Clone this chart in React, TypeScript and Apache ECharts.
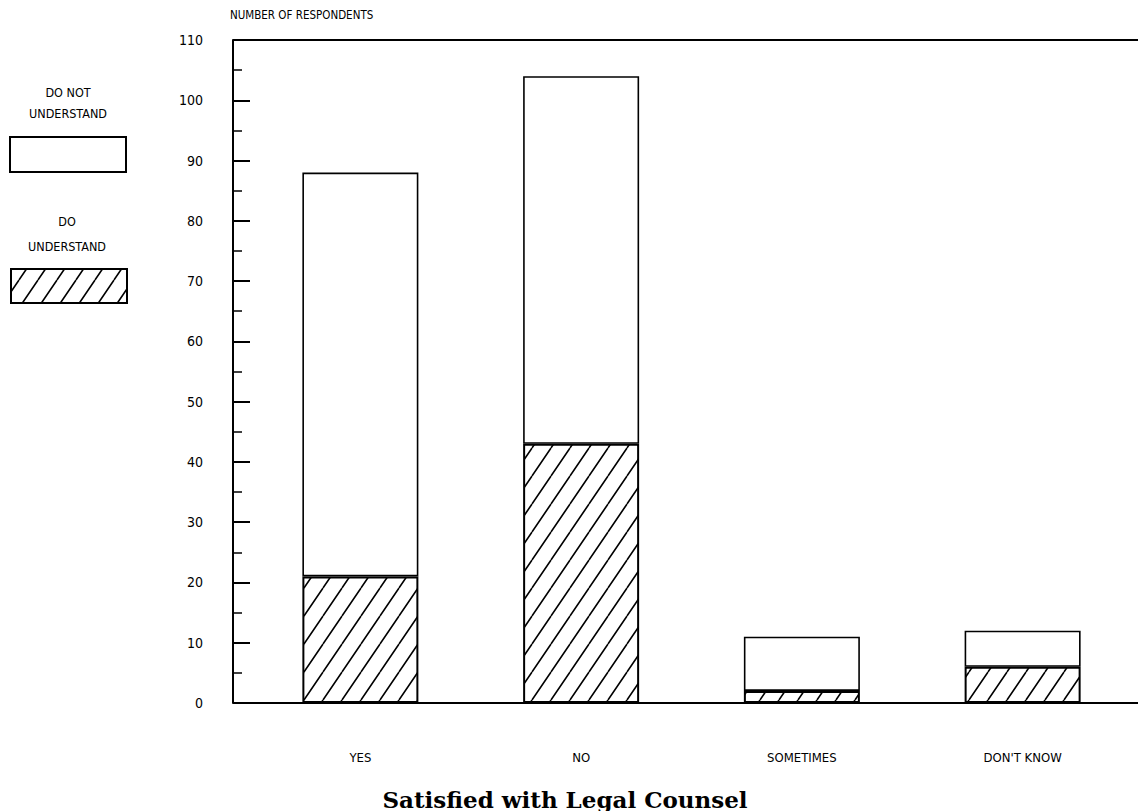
import React, { useEffect, useRef } from "react";
import * as echarts from "echarts";

const categories = ["YES", "NO", "SOMETIMES", "DON'T KNOW"];
const doUnderstand = [21, 43, 2, 6];
const doNotUnderstand = [67, 61, 9, 6];
const yTicks = { min: 0, max: 110, interval: 10 };
const axisTitle = "NUMBER OF RESPONDENTS";
const chartTitle = "Satisfied with Legal Counsel";
const legendNotText = "DO NOT\nUNDERSTAND";
const legendDoText = "DO\nUNDERSTAND";

const LABEL_FONT = "'DejaVu Sans Condensed', 'Liberation Sans Narrow', 'DejaVu Sans', sans-serif";

function makeHatch() {
  const w = 19;
  const h = 28;
  const c = document.createElement("canvas");
  c.width = w;
  c.height = h;
  const ctx = c.getContext("2d")!;
  ctx.fillStyle = "#fff";
  ctx.fillRect(0, 0, w, h);
  ctx.strokeStyle = "#000";
  ctx.lineWidth = 1.6;
  ctx.beginPath();
  ctx.moveTo(0, h);
  ctx.lineTo(w, 0);
  ctx.moveTo(-w, h);
  ctx.lineTo(0, 0);
  ctx.moveTo(w, h);
  ctx.lineTo(2 * w, 0);
  ctx.stroke();
  return { image: c.toDataURL(), w, h };
}

export default function App() {
  const ref = useRef<HTMLDivElement>(null);
  useEffect(() => {
    if (!ref.current) return;
    const chart = echarts.init(ref.current, undefined, { renderer: "svg" });
    const hatch = makeHatch();
    const pattern = () => ({
      image: hatch.image,
      repeat: "repeat",
      imageWidth: hatch.w,
      imageHeight: hatch.h,
    });
    const option: any = {
      animation: false,
      backgroundColor: "#fff",
      grid: { left: 250, right: 5, top: 40, bottom: 108, containLabel: false },
      xAxis: {
        type: "category",
        data: categories,
        axisLine: { show: false },
        axisTick: { show: false },
        axisLabel: {
          color: "#000",
          fontFamily: LABEL_FONT,
          fontSize: 13,
          margin: 48,
        },
      },
      yAxis: {
        type: "value",
        min: yTicks.min,
        max: yTicks.max,
        interval: yTicks.interval,
        offset: 17,
        axisLine: { show: true, lineStyle: { color: "#000", width: 2 } },
        axisTick: { show: true, inside: true, length: 17, lineStyle: { color: "#000", width: 2 } },
        minorTick: { show: true, splitNumber: 2, length: 9, lineStyle: { color: "#000", width: 1.5 } },
        splitLine: { show: false },
        axisLabel: {
          color: "#000",
          fontFamily: LABEL_FONT,
          fontSize: 14,
          margin: 30,
        },
      },
      series: [
        {
          name: "DO UNDERSTAND",
          type: "bar",
          stack: "total",
          barWidth: 116,
          data: doUnderstand,
          itemStyle: { color: pattern(), borderColor: "#000", borderWidth: 2 },
        },
        {
          name: "DO NOT UNDERSTAND",
          type: "bar",
          stack: "total",
          barWidth: 116,
          data: doNotUnderstand,
          itemStyle: { color: "#fff", borderColor: "#000", borderWidth: 1.6 },
        },
      ],
    };
    chart.setOption(option);

    const width = chart.getWidth();
    const y0 = chart.convertToPixel({ yAxisIndex: 0 }, yTicks.min) as number;
    const yTop = chart.convertToPixel({ yAxisIndex: 0 }, yTicks.max) as number;
    const axisX = 233;

    chart.setOption({
      graphic: [
        {
          type: "line",
          shape: { x1: axisX, y1: y0, x2: width, y2: y0 },
          style: { stroke: "#000", lineWidth: 2 },
          z: 10,
        },
        {
          type: "line",
          shape: { x1: axisX, y1: yTop, x2: width, y2: yTop },
          style: { stroke: "#000", lineWidth: 2 },
          z: 10,
        },
        {
          type: "text",
          x: 230,
          y: 9,
          style: { text: axisTitle, fill: "#000", font: `11.5px ${LABEL_FONT}` },
        },
        {
          type: "text",
          x: 68,
          y: 82,
          style: {
            text: legendNotText,
            fill: "#000",
            font: `12.5px ${LABEL_FONT}`,
            align: "center",
            lineHeight: 21,
          },
        },
        {
          type: "rect",
          shape: { x: 10, y: 137, width: 116, height: 35 },
          style: { fill: "#fff", stroke: "#000", lineWidth: 2 },
        },
        {
          type: "text",
          x: 67,
          y: 209,
          style: {
            text: legendDoText,
            fill: "#000",
            font: `12.5px ${LABEL_FONT}`,
            align: "center",
            lineHeight: 25,
          },
        },
        {
          type: "rect",
          shape: { x: 11, y: 269, width: 116, height: 34 },
          style: { fill: pattern(), stroke: "#000", lineWidth: 2 },
        },
        {
          type: "text",
          x: 565,
          y: 799,
          style: {
            text: chartTitle,
            fill: "#000",
            font: `bold 23px 'DejaVu Serif', 'Liberation Serif', serif`,
            align: "center",
            verticalAlign: "middle",
          },
        },
      ],
    });
    return () => chart.dispose();
  }, []);
  return <div ref={ref} style={{ width: 1138, height: 811, position: "absolute", left: 0, top: 0 }} />;
}
